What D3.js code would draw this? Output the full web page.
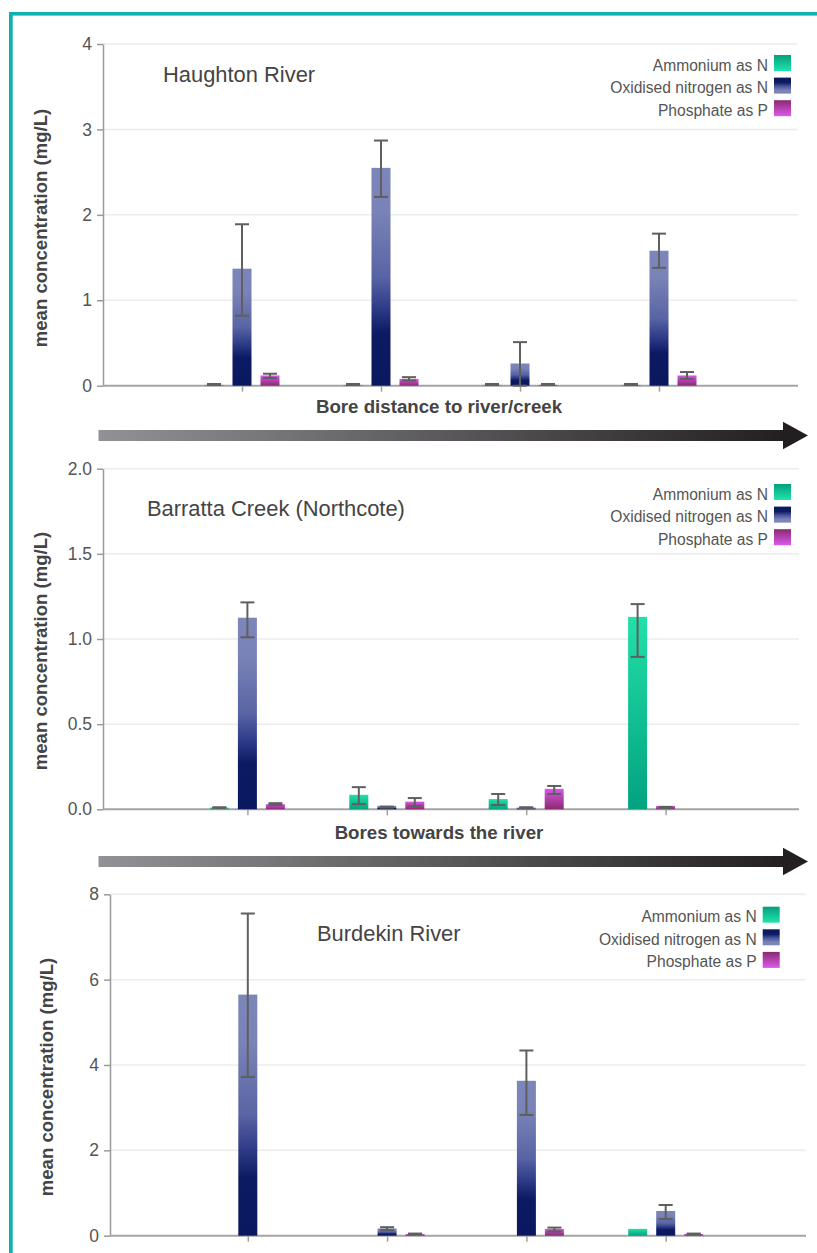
<!DOCTYPE html>
<html>
<head>
<meta charset="utf-8">
<script src="https://cdn.jsdelivr.net/npm/d3@7"></script>
<style>
  html, body { margin: 0; padding: 0; background: #fff; }
  svg { display: block; font-family: "Liberation Sans", Arial, Helvetica, sans-serif; }
</style>
</head>
<body>
<script>
// ---------------- DATA ----------------
const categories = ["Bore 1", "Bore 2", "Bore 3", "Bore 4"];
const seriesNames = ["Ammonium as N", "Oxidised nitrogen as N", "Phosphate as P"];

// Haughton River
const haughtonAmm    = [0.01, 0.01, 0.01, 0.01];
const haughtonAmmErr = [[0.008, 0.02], [0.008, 0.02], [0.008, 0.02], [0.008, 0.02]];
const haughtonOx     = [1.37, 2.55, 0.26, 1.58];
const haughtonOxErr  = [[0.82, 1.89], [2.21, 2.87], [0.0, 0.51], [1.38, 1.78]];
const haughtonPhos   = [0.12, 0.08, 0.01, 0.12];
const haughtonPhosErr= [[0.09, 0.14], [0.06, 0.10], [0.008, 0.02], [0.08, 0.16]];

// Barratta Creek (Northcote)
const barrattaAmm    = [0.01, 0.085, 0.06, 1.13];
const barrattaAmmErr = [[0.008, 0.012], [0.03, 0.13], [0.025, 0.09], [0.895, 1.205]];
const barrattaOx     = [1.125, 0.02, 0.01, null];
const barrattaOxErr  = [[1.01, 1.215], [0.01, 0.016], [0.008, 0.012], null];
const barrattaPhos   = [0.03, 0.045, 0.12, 0.02];
const barrattaPhosErr= [[0.025, 0.036], [0.02, 0.066], [0.09, 0.137], [0.008, 0.014]];

// Burdekin River
const burdekinAmm    = [null, null, null, 0.16];
const burdekinAmmErr = [null, null, null, null];
const burdekinOx     = [5.65, 0.17, 3.63, 0.58];
const burdekinOxErr  = [[3.72, 7.55], [0.13, 0.20], [2.83, 4.34], [0.39, 0.72]];
const burdekinPhos   = [null, 0.04, 0.16, 0.04];
const burdekinPhosErr= [null, [0.035, 0.05], [0.10, 0.19], [0.035, 0.05]];

const panelTitles = ["Haughton River", "Barratta Creek (Northcote)", "Burdekin River"];
const axisTitles  = ["Bore distance to river/creek", "Bores towards the river", null];
const yTitle = "mean concentration (mg/L)";
const yTicks = [[0, 1, 2, 3, 4], [0, 0.5, 1.0, 1.5, 2.0], [0, 2, 4, 6, 8]];
const yMax = [4, 2, 8];

// ---------------- LAYOUT ----------------
const W = 817, H = 1253;
const layout = [
  { axisX: 103, xEnd: 798, xr: [103, 798],   yTop: 44,    yBot: 385.7,  fmt: d3.format("d"),
    titleX: 163, titleY: 82.3, legEnd: 768, legY: 55, xTitleY: 413.3, yTitleX: 46.7, yTitleY: 228, arrowY: 435.5 },
  { axisX: 103, xEnd: 799, xr: [108, 805],   yTop: 468.7, yBot: 809.3,  fmt: d3.format(".1f"),
    titleX: 147, titleY: 515.7, legEnd: 768, legY: 484, xTitleY: 839, yTitleX: 46.7, yTitleY: 651, arrowY: 861.5 },
  { axisX: 110, xEnd: 806, xr: [108.5, 805], yTop: 894.3, yBot: 1235.7, fmt: d3.format("d"),
    titleX: 317, titleY: 940.7, legEnd: 756.7, legY: 906.7, xTitleY: null, yTitleX: 53.3, yTitleY: 1077, arrowY: null }
];
const panelsData = [
  { vals: [haughtonAmm, haughtonOx, haughtonPhos], errs: [haughtonAmmErr, haughtonOxErr, haughtonPhosErr] },
  { vals: [barrattaAmm, barrattaOx, barrattaPhos], errs: [barrattaAmmErr, barrattaOxErr, barrattaPhosErr] },
  { vals: [burdekinAmm, burdekinOx, burdekinPhos], errs: [burdekinAmmErr, burdekinOxErr, burdekinPhosErr] }
];

const svg = d3.select("body").append("svg").attr("width", W).attr("height", H);
const defs = svg.append("defs");

function grad(id, stops, x2 = 0, y2 = 1) {
  const g = defs.append("linearGradient").attr("id", id)
    .attr("x1", 0).attr("y1", 0).attr("x2", x2).attr("y2", y2);
  stops.forEach(s => g.append("stop").attr("offset", s[0]).attr("stop-color", s[1]));
}
// bar gradients (top -> bottom)
grad("g0", [[0, "#22e0a8"], [1, "#02a27f"]]);
grad("g1", [[0, "#7c86ba"], [0.2, "#7a83b7"], [0.5, "#5864a4"], [0.65, "#2c3986"], [0.76, "#0c1a62"], [1, "#0a1860"]]);
grad("g2", [[0, "#da55ea"], [1, "#8a2a70"]]);
// legend gradients (dark top -> light bottom)
grad("l0", [[0, "#02a07c"], [1, "#22e4aa"]]);
grad("l1", [[0, "#0a1860"], [0.3, "#0c1a62"], [0.55, "#4a569b"], [0.8, "#7a83b7"], [1, "#7c86ba"]]);
grad("l2", [[0, "#8a2a6e"], [1, "#dc58ee"]]);
// arrow gradient
grad("arrowGrad", [[0, "#929296"], [1, "#231f20"]], 1, 0);

// teal frame
svg.append("rect").attr("x", 9).attr("y", 12).attr("width", W - 9).attr("height", 3.6).attr("fill", "#0fb0b2");
svg.append("rect").attr("x", 9).attr("y", 12).attr("width", 3.7).attr("height", H - 12).attr("fill", "#0fb0b2");

const slotGap = 28, barW = 19, capW = 14;

layout.forEach((L, pi) => {
  const P = panelsData[pi];
  const y = d3.scaleLinear().domain([0, yMax[pi]]).range([L.yBot, L.yTop]);
  const x = d3.scaleLinear().domain([0, categories.length + 1]).range(L.xr);
  const g = svg.append("g");

  // gridlines
  g.selectAll("line.grid").data(yTicks[pi].filter(t => t > 0)).join("line")
    .attr("x1", L.axisX).attr("x2", L.xEnd)
    .attr("y1", d => y(d)).attr("y2", d => y(d))
    .attr("stroke", "#ececec").attr("stroke-width", 1.5);

  // y axis
  const ya = g.append("g").attr("transform", `translate(${L.axisX},0)`)
    .call(d3.axisLeft(y).tickValues(yTicks[pi]).tickFormat(L.fmt).tickSize(6).tickSizeOuter(0).tickPadding(5));
  ya.select(".domain").attr("stroke", "#9a9a9a").attr("stroke-width", 1.5);
  ya.selectAll(".tick line").attr("stroke", "#9a9a9a").attr("stroke-width", 1.5);
  ya.selectAll(".tick text").attr("fill", "#555").style("font-size", "17.5px")
    .style("font-family", '"Liberation Sans", Arial, sans-serif');

  // x axis
  const xa = g.append("g").attr("transform", `translate(0,${L.yBot})`)
    .call(d3.axisBottom(x).tickValues(d3.range(1, categories.length + 1)).tickFormat("").tickSize(6).tickSizeOuter(0));
  xa.select(".domain").remove();
  xa.selectAll(".tick line").attr("stroke", "#a0a0a0").attr("stroke-width", 1.5);
  g.append("line").attr("x1", L.axisX).attr("x2", L.xEnd).attr("y1", L.yBot).attr("y2", L.yBot)
    .attr("stroke", "#a4a4a4").attr("stroke-width", 2);

  // bars
  const bars = [];
  categories.forEach((c, ci) => {
    const present = [0, 1, 2].filter(s => P.vals[s][ci] != null);
    if (!present.length) return;
    const first = present[0];
    present.forEach((s, k) => {
      const slot = first + k;
      bars.push({ s, cx: x(ci + 1) + (slot - 1) * slotGap, v: P.vals[s][ci], e: P.errs[s][ci] });
    });
  });
  g.selectAll("rect.bar").data(bars).join("rect")
    .attr("x", d => d.cx - barW / 2).attr("width", barW)
    .attr("y", d => y(d.v)).attr("height", d => L.yBot - y(d.v))
    .attr("fill", d => `url(#g${d.s})`);

  const eb = bars.filter(d => d.e);
  g.selectAll("line.ev").data(eb).join("line")
    .attr("x1", d => d.cx).attr("x2", d => d.cx)
    .attr("y1", d => y(d.e[0])).attr("y2", d => y(d.e[1]))
    .attr("stroke", "#5f5f5f").attr("stroke-width", 2);
  g.selectAll("line.ct").data(eb).join("line")
    .attr("x1", d => d.cx - capW / 2).attr("x2", d => d.cx + capW / 2)
    .attr("y1", d => y(d.e[1])).attr("y2", d => y(d.e[1]))
    .attr("stroke", "#5f5f5f").attr("stroke-width", 2);
  g.selectAll("line.cb").data(eb).join("line")
    .attr("x1", d => d.cx - capW / 2).attr("x2", d => d.cx + capW / 2)
    .attr("y1", d => y(d.e[0])).attr("y2", d => y(d.e[0]))
    .attr("stroke", "#5f5f5f").attr("stroke-width", 2);

  // panel title
  g.append("text").attr("x", L.titleX).attr("y", L.titleY).text(panelTitles[pi])
    .attr("fill", "#444").style("font-size", "21.9px");

  // legend
  seriesNames.forEach((name, s) => {
    const ty = L.legY + s * 22.6;
    g.append("rect").attr("x", L.legEnd + 6).attr("y", ty).attr("width", 17).attr("height", 16)
      .attr("fill", `url(#l${s})`);
    g.append("text").attr("x", L.legEnd).attr("y", ty + 15.5).attr("text-anchor", "end")
      .attr("fill", "#555").style("font-size", "15.6px").text(name);
  });

  // y title
  g.append("text").attr("transform", `translate(${L.yTitleX},${L.yTitleY}) rotate(-90)`)
    .attr("text-anchor", "middle").attr("fill", "#444").style("font-size", "18.6px").style("font-weight", "bold")
    .text(yTitle);

  // x title + arrow
  if (axisTitles[pi]) {
    g.append("text").attr("x", 439).attr("y", L.xTitleY).attr("text-anchor", "middle")
      .attr("fill", "#444").style("font-size", "18.7px").style("font-weight", "bold").text(axisTitles[pi]);
  }
  if (L.arrowY != null) {
    const ay = L.arrowY;
    g.append("rect").attr("x", 98.5).attr("y", ay - 5.5).attr("width", 786 - 98.5).attr("height", 11)
      .attr("fill", "url(#arrowGrad)");
    g.append("path").attr("d", `M783,${ay - 13.8}L808,${ay}L783,${ay + 13.8}Z`).attr("fill", "#231f20");
  }
});
</script>
</body>
</html>
